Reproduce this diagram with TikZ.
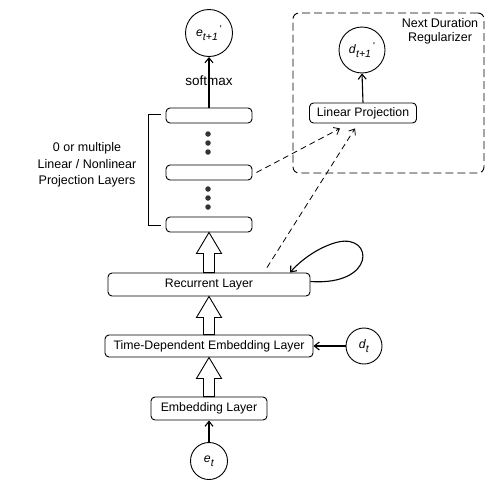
\documentclass[tikz,border=0pt]{standalone}
\usepackage{fontspec}
\setmainfont{Liberation Sans}
\usetikzlibrary{arrows.meta,calc}
\newcommand\lbl[3]{\textit{#1}\raisebox{-0.6ex}{\fontsize{10.5}{10.5}\selectfont\textit{#2}}#3}
\newcommand\pr{\,\raisebox{0.55ex}{\fontsize{10}{10}\selectfont\textquotesingle}}
\begin{document}
\begin{tikzpicture}[x=1pt,y=-1pt,
  every node/.style={font=\fontsize{12.3}{14}\selectfont},
  layer/.style={draw, rounded corners=4pt, line width=0.9pt, inner sep=0pt},
  var/.style={draw, circle, line width=0.9pt, inner sep=0pt},
  dotn/.style={circle, fill=black!80, inner sep=0pt, minimum size=5.5pt},
  arr/.style={line width=1.1pt, -{Straight Barb[length=5pt,width=8pt]}},
  darr/.style={line width=0.8pt, dash pattern=on 6pt off 4pt, -{Straight Barb[length=5pt,width=8pt]}},
  hollow/.style={draw, fill=white, line width=0.9pt,
    to path={let \p1=(\tikztostart), \p2=(\tikztotarget) in
      (\x1-5.5pt,\y1) -- (\x1-5.5pt,\y2-21pt) -- (\x1-12.5pt,\y2-21pt) -- (\x1,\y2)
      -- (\x1+12.5pt,\y2-21pt) -- (\x1+5.5pt,\y2-21pt) -- (\x1+5.5pt,\y1) -- cycle}}
]
\useasboundingbox (0,0) rectangle (498,490);

% regularizer box
\node[draw, line width=0.9pt, dash pattern=on 8pt off 4pt, rounded corners=6pt,
      minimum width=191, minimum height=160] (reg) at (388.5,93) {};
\node[align=center, font=\fontsize{12.5}{14}\selectfont] (regl) at (440,31) {Next Duration\\Regularizer};

% nodes
\node[var, minimum size=47] (eout) at (209,33) {\lbl{e}{t+1}{\pr}};
\node[var, minimum size=46] (dout) at (362,50) {\lbl{d}{t+1}{\pr}};
\node[layer, minimum width=107, minimum height=20] (lp) at (363,113) {Linear Projection};

\node[layer, minimum width=86, minimum height=15] (p1) at (209,115.5) {};
\node[layer, minimum width=86, minimum height=15] (p2) at (209,172.5) {};
\node[layer, minimum width=86, minimum height=15] (p3) at (209,224.5) {};

\node[dotn] (a1) at (208,134) {};
\node[dotn] (a2) at (208,143) {};
\node[dotn] (a3) at (208,152) {};
\node[dotn] (b1) at (208,189) {};
\node[dotn] (b2) at (208,198) {};
\node[dotn] (b3) at (208,207) {};

\node[layer, minimum width=202, minimum height=23] (rec) at (209,284.5) {Recurrent Layer};
\node[layer, minimum width=208, minimum height=22] (tde) at (209,346) {Time-Dependent Embedding Layer};
\node[layer, minimum width=116, minimum height=23] (emb) at (209,408.5) {Embedding Layer};
\node[var, minimum size=37] (et) at (209,461) {\lbl{e}{t}{}};
\node[var, minimum size=36] (dt) at (364,346) {\lbl{d}{t}{}};

% bracket and label
\coordinate (bt) at (161,114);
\coordinate (bb) at (161,225);
\draw[line width=0.9pt] (bt) -- ++(-13,0) |- (bb);
\node[align=center, font=\fontsize{12.5}{16.5}\selectfont] (side) at (87,165) {0 or multiple\\Linear / Nonlinear\\Projection Layers};

% connectors
\draw[arr] (p1.north) -- (eout.south);
\node[font=\fontsize{13.5}{15}\selectfont] (sm) at (209,81) {softmax};
\draw[arr] (lp.north) -- (dout.south);
\draw[arr] (dt.west) -- (tde.east);
\draw[arr] (et.north) -- (emb.south);

\draw[hollow] (emb.north) to (tde.south);
\draw[hollow] (tde.north) to (rec.south);
\draw[hollow] (rec.north) to (p3.south);

\draw[darr] ([xshift=4pt]p2.east) -- ([xshift=-23pt,yshift=-5pt]lp.south);
\draw[darr] ([xshift=58pt,yshift=5pt]rec.north) -- ([xshift=-8pt,yshift=-5pt]lp.south);

\draw[arr] ([yshift=3pt]rec.east) .. controls (376,286) and (374,234) .. (338,242)
  .. controls (318,247) and (300,261) .. ([xshift=81pt]rec.north);
\end{tikzpicture}
\end{document}
